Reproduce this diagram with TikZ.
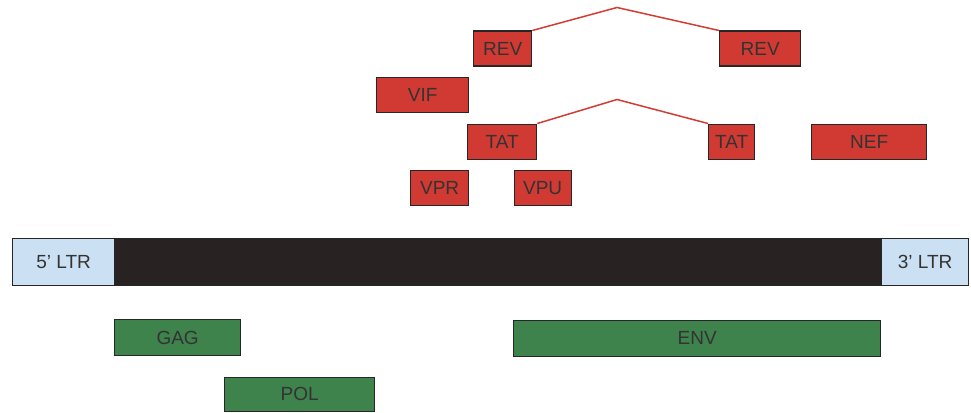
\documentclass[tikz,border=0pt]{standalone}
\usepackage{fontspec}
\setmainfont{Liberation Sans}
\begin{document}
\begin{tikzpicture}[x=1pt,y=-1pt,
  box/.style={draw=black!85, line width=1.3pt, inner sep=0pt, text=black!80, font=\fontsize{19}{22}\selectfont, anchor=north west},
  redbox/.style={box, fill=genered},
  greenbox/.style={box, fill=genegreen},
  ltrbox/.style={box, fill=ltrblue},
  barbox/.style={draw=black!85, line width=1.3pt, fill=barblack, inner sep=0pt, anchor=north west},
  splice/.style={draw=splicered, line width=1.5pt}]
\definecolor{genered}{RGB}{208,58,50}
\definecolor{splicered}{RGB}{210,60,50}
\definecolor{genegreen}{RGB}{62,130,76}
\definecolor{ltrblue}{RGB}{204,224,243}
\definecolor{barblack}{RGB}{40,34,34}
\useasboundingbox (0,0) rectangle (971,412);
% genome bar
\node[barbox, minimum width=767pt, minimum height=47pt] (bar) at (114,238) {};
\node[ltrbox, minimum width=102pt, minimum height=47pt] (ltr5) at (12,238) {5\textquoteright\ LTR};
\node[ltrbox, minimum width=87pt, minimum height=47pt] (ltr3) at (881,238) {3\textquoteright\ LTR};
% red genes
\node[redbox, minimum width=58pt, minimum height=35pt] (rev1) at (473,30.5) {REV};
\node[redbox, minimum width=81pt, minimum height=35pt] (rev2) at (719,30.5) {REV};
\node[redbox, minimum width=92pt, minimum height=35pt] (vif) at (376,76.5) {VIF};
\node[redbox, minimum width=69pt, minimum height=35pt] (tat1) at (467,123.5) {TAT};
\node[redbox, minimum width=46pt, minimum height=35pt] (tat2) at (708,123.5) {TAT};
\node[redbox, minimum width=115pt, minimum height=35pt] (nef) at (811,123.5) {NEF};
\node[redbox, minimum width=58pt, minimum height=35pt] (vpr) at (410,169.5) {VPR};
\node[redbox, minimum width=57pt, minimum height=35pt] (vpu) at (513.5,169.5) {VPU};
% green genes
\node[greenbox, minimum width=126pt, minimum height=36pt] (gag) at (114,319) {GAG};
\node[greenbox, minimum width=367pt, minimum height=36pt] (env) at (513,319.5) {ENV};
\node[greenbox, minimum width=150pt, minimum height=34pt] (pol) at (224,376.5) {POL};
% splice connectors
\coordinate (revpeak) at (617,7.5);
\coordinate (tatpeak) at (617,99.5);
\draw[splice] (rev1.north east) -- (revpeak) -- (rev2.north west);
\draw[splice] (tat1.north east) -- (tatpeak) -- (tat2.north west);
\end{tikzpicture}
\end{document}
